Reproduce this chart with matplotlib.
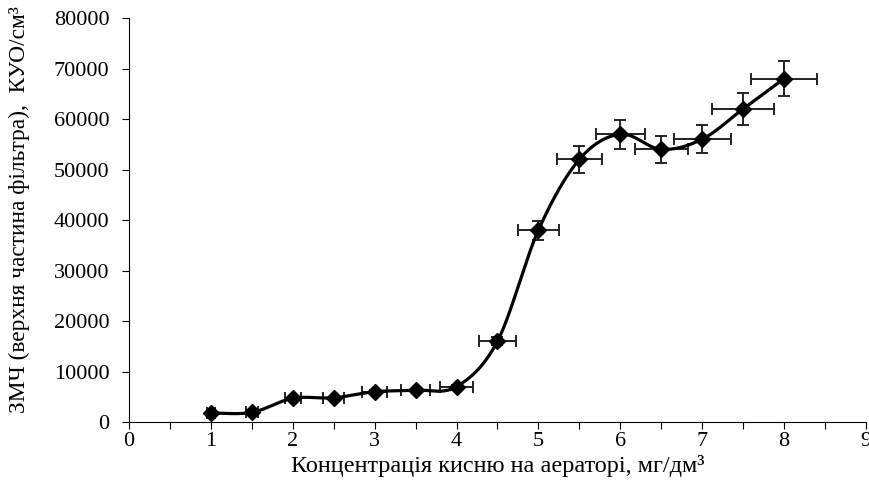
import numpy as np
import matplotlib
matplotlib.use("Agg")
import matplotlib.pyplot as plt

# Data
oxygen = [1.0, 1.5, 2.0, 2.5, 3.0, 3.5, 4.0, 4.5, 5.0, 5.5, 6.0, 6.5, 7.0, 7.5, 8.0]
cfu = [1800, 1900, 4700, 4800, 6000, 6300, 7000, 16000, 38000, 52000, 57000, 54000, 56000, 62000, 68000]
rel_err = 0.05
x_ticks = [0, 1, 2, 3, 4, 5, 6, 7, 8, 9]
y_ticks = [0, 10000, 20000, 30000, 40000, 50000, 60000, 70000, 80000]

x = np.array(oxygen, dtype=float)
y = np.array(cfu, dtype=float)


def smooth_curve(px, py, n=40, t=1 / 6):
    # Excel-like Bezier smoothing through the points
    xs, ys = [], []
    N = len(px)
    for i in range(N - 1):
        p0 = np.array([px[max(i - 1, 0)], py[max(i - 1, 0)]])
        p1 = np.array([px[i], py[i]])
        p2 = np.array([px[i + 1], py[i + 1]])
        p3 = np.array([px[min(i + 2, N - 1)], py[min(i + 2, N - 1)]])
        c1 = p1 + (p2 - p0) * t
        c2 = p2 - (p3 - p1) * t
        s = np.linspace(0, 1, n)[:, None]
        pts = ((1 - s) ** 3) * p1 + 3 * ((1 - s) ** 2) * s * c1 + 3 * (1 - s) * s ** 2 * c2 + s ** 3 * p2
        xs.extend(pts[:, 0])
        ys.extend(pts[:, 1])
    return np.array(xs), np.array(ys)


plt.rcParams['font.family'] = ['Liberation Serif', 'DejaVu Serif']

fig = plt.figure(figsize=(8.69, 4.91), dpi=100)
ax = fig.add_axes([0.1484, 0.1405, 0.8481, 0.8228])

sx, sy = smooth_curve(x, y)
ax.plot(sx, sy, color='black', lw=2.3, zorder=3)
ax.errorbar(x, y, xerr=x * rel_err, yerr=y * rel_err, fmt='none', ecolor='#222222',
            elinewidth=1.4, capsize=4, capthick=1.4, zorder=2)
ax.plot(x, y, linestyle='none', marker='D', markersize=8.5, color='black', zorder=4)

ax.set_xlim(0, 9)
ax.set_ylim(0, 80000)
ax.set_xticks(x_ticks)
ax.set_xticks(np.arange(0, 9.01, 0.5), minor=True)
ax.set_yticks(y_ticks)
ax.tick_params(axis='both', which='both', direction='out', length=5, width=0.8, labelsize=16)
ax.tick_params(axis='x', which='minor', length=5)
ax.tick_params(axis='x', pad=2)
ax.tick_params(axis='y', pad=9)
for s in ['top', 'right']:
    ax.spines[s].set_visible(False)

ax.set_xlabel('Концентрація кисню на аераторі, мг/дм³', fontsize=17.5, labelpad=3)
ax.set_ylabel('ЗМЧ (верхня частина фільтра),  КУО/см³', fontsize=16.8)
ax.yaxis.set_label_coords(-0.134, 0.527)

fig.savefig('out.png', dpi=100)
